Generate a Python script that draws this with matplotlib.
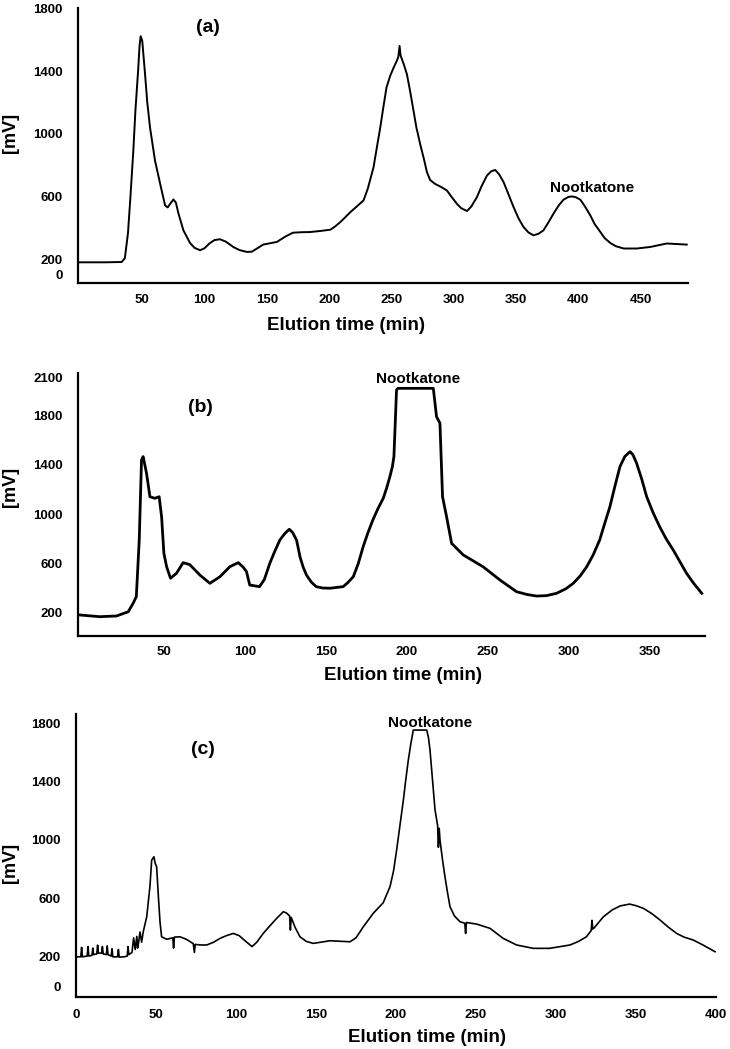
import matplotlib
matplotlib.use("Agg")
import matplotlib.pyplot as plt

plt.rcParams['font.family'] = ['Liberation Sans', 'DejaVu Sans']
plt.rcParams['font.weight'] = 'bold'

# (a) chromatogram, time in min, signal in mV
t_a = [0, 20, 33.5, 36, 38.5, 40.5, 42.8, 44.5, 46.8, 47.8, 48.7, 50, 52.2, 54, 56.2,
       60.2, 64.3, 68.3, 70.4, 73, 75, 77, 79, 83, 88.4, 92, 96.4, 100, 104, 108, 112.4,
       117, 123, 128, 134, 138, 147, 158, 165, 171, 178, 184.7, 193, 201,
       205, 209, 213, 217, 222, 227.6, 231, 235.6, 238, 241, 243.5, 246, 249, 251.7,
       254, 255.5, 256.5, 257.3, 258, 260, 262.4, 265, 267.7, 270, 273, 276, 278.5,
       281, 285, 290, 294.5, 298, 302.5, 306, 310.6, 314, 318.6, 322, 326.6, 330,
       333.3, 336.5, 340, 344, 348, 352, 356, 360, 364, 368, 372, 376, 380, 384, 388,
       392, 395, 398, 401.6, 405, 409.6, 413, 417.7, 421, 425.7, 430, 436.4, 447,
       457.8, 471, 487]
mv_a = [180, 180, 182, 206, 365, 600, 892, 1150, 1421, 1560, 1622, 1590, 1381, 1200,
        1040, 829, 682, 543, 530, 560, 581, 560, 492, 384, 302, 272, 257, 270, 301,
        322, 327, 312, 278, 258, 246, 248, 293, 310, 345, 369, 372, 373, 380, 388,
        410, 437, 468, 500, 535, 575, 650, 786, 900, 1040, 1170, 1295, 1370, 1421,
        1460, 1490, 1560, 1500, 1484, 1440, 1379, 1270, 1146, 1040, 935, 840, 754,
        705, 680, 660, 638, 600, 553, 525, 507, 535, 596, 660, 733, 760,
        769, 740, 691, 612, 532, 460, 405, 370, 352, 362, 384, 435, 490, 540, 579,
        597, 600, 595, 579, 540, 479, 425, 373, 335, 303, 283, 268, 268,
        278, 300, 293]

# (b)
t_b = [-2, 10.5, 20.8, 28, 31, 33, 34.8, 36.2, 37.2, 39.3, 41.4, 44.4, 47.1, 48.6, 50,
       51.7, 54.1, 57.8, 61.9, 66, 72.2, 78.4, 84.6, 90.7, 95.9, 99, 101, 103, 109,
       112, 115.4, 118.5, 121.6, 124.5, 127.4, 129.5, 131.9, 133, 134, 136, 138, 141,
       144, 148, 152.5, 160.7, 163.5, 166.9, 170, 173, 176, 179, 182, 185.4, 187.5,
       189.5, 191, 192, 193, 193.6, 194.5, 216.3, 218.3, 220.4, 222, 224.5, 227.6,
       234.8, 247, 257.4, 262.5, 267.7, 274, 280, 286, 292.4, 298, 302.7, 307, 311,
       315, 319, 322, 325.3, 328.5, 331.5, 334.5, 337.7, 339.5, 341.8, 345, 348, 352,
       356, 360, 364.4, 368.5, 372.6, 377, 382]
mv_b = [184, 170, 176, 210, 278, 332, 790, 1437, 1464, 1329, 1140, 1127, 1140, 978, 683,
        574, 481, 521, 607, 591, 507, 440, 493, 574, 607, 570, 534, 426, 413,
        470, 602, 700, 790, 840, 877, 850, 790, 720, 655, 570, 507, 450,
        413, 402, 400, 413, 445, 493, 600, 736, 850, 952, 1040, 1127, 1210,
        1302, 1380, 1464, 1800, 2003, 2016, 2016, 1787, 1734, 1140, 978, 763,
        669, 574, 467, 420, 372, 350, 337, 340, 359, 395, 440, 500, 574,
        670, 790, 920, 1059, 1230, 1383, 1465, 1504, 1480, 1410, 1280, 1140, 1010,
        898, 800, 709, 615, 521, 440, 359]

# (c)
t_c = [0, 3, 3.5, 4, 7, 7.5, 8, 10, 10.5, 11, 13, 13.5, 14, 16, 16.5, 17, 19, 19.5, 20,
       22, 22.5, 23, 26, 26.5, 27, 30, 32, 32.5, 33, 35, 36, 37, 38, 38.5, 39, 40, 41,
       42, 44.2, 46.2, 47.3, 48.7, 49.5, 50.4, 51.5, 52.5, 53.5, 56.7, 60.5, 61, 61.5,
       65, 69, 73.3, 74, 74.5, 78, 81.7, 86, 90, 94, 98.3, 102, 106.7, 110, 113, 117,
       121, 125.4, 129.6, 131.5, 133.5, 134, 134.5, 137, 140, 144, 148.3, 158.75,
       171.25, 175, 179.6, 185.8, 192, 196.25, 198.5, 200.4, 202.5, 204.6, 206.2,
       207.7, 209.3, 210.8, 219.2, 220.3, 221.25, 222.8, 224.4, 226, 226.5, 227,
       227.5, 229, 230.6, 232.2, 233.75, 236.5, 240, 243, 243.5, 244, 250.4, 258.75,
       267, 275.4, 285.8, 296, 308.75, 314, 319, 322, 322.5, 323, 324, 329.6, 335,
       340, 346, 350, 354.6, 360, 365, 370, 375.4, 380, 385.8, 392, 399.4]
mv_c = [200, 200, 265, 200, 205, 270, 205, 210, 260, 215, 220, 280, 225, 225, 270, 220,
        215, 275, 215, 205, 255, 200, 200, 250, 198, 200, 205, 270, 215, 230, 330, 250,
        340, 260, 290, 370, 300, 370, 474, 680, 862, 885, 840, 816, 611, 440, 337, 320,
        330, 260, 335, 337, 320, 290, 230, 285, 281, 281, 300, 326, 345, 360, 345,
        300, 270, 300, 360, 410, 463, 509, 500, 480, 383, 470, 400, 337, 305, 292, 310,
        303, 330, 406, 498, 570, 680, 790, 931, 1100, 1273, 1420,
        1547, 1660, 1752, 1752, 1700, 1615, 1410, 1205, 1100, 950, 1080,
        999, 870, 748, 640, 543, 480, 440, 430, 360, 435, 424, 395,
        326, 281, 258, 258, 281, 305, 337, 380, 450, 390, 400, 474, 520,
        548, 561, 550, 532, 495, 452, 405, 360, 335, 315, 280, 235]

W, H = 730, 1049
fig = plt.figure(figsize=(W / 100, H / 100), dpi=100)


def px_axes(l, t, r, b):
    return fig.add_axes([l / W, 1 - b / H, (r - l) / W, (b - t) / H])


def style(ax, xpad, ypad):
    for s in ['top', 'right']:
        ax.spines[s].set_visible(False)
    for s in ['left', 'bottom']:
        ax.spines[s].set_linewidth(1.6)
    ax.tick_params(axis='y', length=0, pad=ypad, labelsize=9.5)
    ax.tick_params(axis='x', length=0, pad=xpad, labelsize=9.5)
    for lab in ax.get_xticklabels() + ax.get_yticklabels():
        lab.set_fontweight('bold')


def ftext(x, y, s, size, **kw):
    fig.text(x / W, 1 - y / H, s, fontsize=size, fontweight='bold',
             ha='center', va='center', **kw)


# panel a
ax1 = px_axes(78, 8, 688, 283)
ax1.plot(t_a, mv_a, color='black', lw=1.4)
ax1.set_xlim(-1.6, 488)
ax1.set_ylim(48, 1802)
ax1.set_xticks([50, 100, 150, 200, 250, 300, 350, 400, 450])
ax1.set_yticks([105, 200, 600, 1000, 1400, 1800])
ax1.set_yticklabels(['0', '200', '600', '1000', '1400', '1800'])
style(ax1, 8, 11)

# panel b
ax2 = px_axes(78, 373, 705, 636)
ax2.plot(t_b, mv_b, color='black', lw=2.0)
ax2.set_xlim(-3, 384)
ax2.set_ylim(14, 2140)
ax2.set_xticks([50, 100, 150, 200, 250, 300, 350])
ax2.set_yticks([200, 600, 1000, 1400, 1800, 2100])
style(ax2, 7, 11)

# panel c
ax3 = px_axes(76, 714, 716, 997)
ax3.plot(t_c, mv_c, color='black', lw=1.2)
ax3.set_xlim(0, 400)
ax3.set_ylim(-75, 1862)
ax3.set_xticks([0, 50, 100, 150, 200, 250, 300, 350, 400])
ax3.set_yticks([0, 200, 600, 1000, 1400, 1800])
style(ax3, 9, 11)

# labels
ftext(208, 27, '(a)', 14)
ftext(200, 408, '(b)', 14)
ftext(203, 750, '(c)', 14)
ftext(592, 188, 'Nootkatone', 11)
ftext(418, 379, 'Nootkatone', 11)
ftext(430, 723, 'Nootkatone', 11)
ftext(346, 326, 'Elution time (min)', 13.5)
ftext(403, 675, 'Elution time (min)', 13.5)
ftext(427, 1037, 'Elution time (min)', 13.5)
ftext(11, 133, '[mV]', 13, rotation=90)
ftext(11, 487, '[mV]', 13, rotation=90)
ftext(11, 863, '[mV]', 13, rotation=90)

fig.savefig('out.png', dpi=100)
